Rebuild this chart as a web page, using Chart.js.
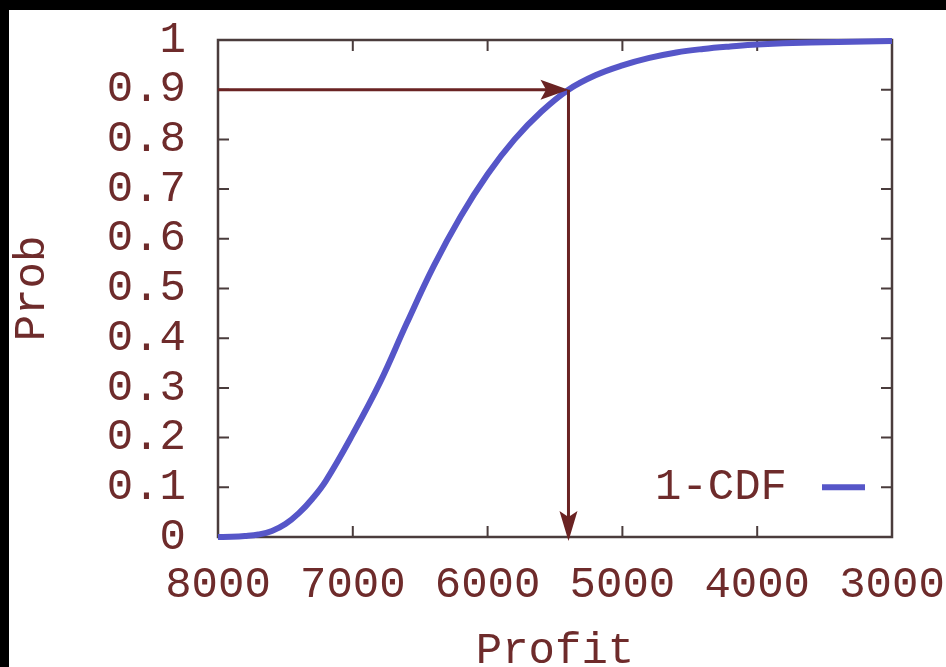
<!DOCTYPE html>
<html>
<head>
<meta charset="utf-8">
<script src="https://cdn.jsdelivr.net/npm/chart.js@4/dist/chart.umd.min.js"></script>
<style>
  html, body { margin: 0; padding: 0; background: #000; }
  #box { position: absolute; left: 9px; top: 10px; width: 937px; height: 657px; background: #fff; }
</style>
</head>
<body>
<div id="box"><canvas id="cdf_chart" width="937" height="657"></canvas></div>
<script>
// profit values (x) and 1-CDF probability
var profit = [8000, 7900, 7800, 7700, 7600, 7500, 7400, 7300, 7200, 7000, 6800, 6600, 6400, 6200, 6000, 5800, 5600, 5400, 5200, 5000, 4800, 4600, 4400, 4200, 4000, 3600, 3000]
var prob   = [0, 0.0005, 0.002, 0.005, 0.012, 0.026, 0.048, 0.077, 0.113, 0.207, 0.31, 0.43, 0.545, 0.645, 0.73, 0.8, 0.856, 0.9, 0.929, 0.949, 0.964, 0.975, 0.982, 0.987, 0.991, 0.995, 0.998]
var xTicks = [8000, 7000, 6000, 5000, 4000, 3000]
var yTicks = [0, 0.1, 0.2, 0.3, 0.4, 0.5, 0.6, 0.7, 0.8, 0.9, 1]
// the 0.9 marker arrows
var markProfit = 5400
var markProb = 0.9
var seriesName = '1-CDF'

var textColor = '#6e2b2b'
var axisColor = '#4a3c3c'
var arrowColor = '#6a2323'
var lineColor = '#5656c8'
var fam = '"Liberation Mono", "Courier New", monospace'
var font = { family: fam, size: 44, weight: 'normal' }

function head(ctx, x, y, dx, dy, len, half) {
  ctx.beginPath()
  ctx.moveTo(x, y)
  ctx.lineTo(x - dx * len - dy * half, y - dy * len + dx * half)
  ctx.lineTo(x - dx * len * 0.8, y - dy * len * 0.8)
  ctx.lineTo(x - dx * len + dy * half, y - dy * len - dx * half)
  ctx.closePath()
  ctx.fill()
}

function noPad(s) {
  s.paddingTop = 0; s.paddingBottom = 0; s.paddingLeft = 0; s.paddingRight = 0
}

var framePlugin = {
  id: 'frame',
  beforeDatasetsDraw: function (chart) {
    var a = chart.chartArea, ctx = chart.ctx
    var xs = chart.scales.x, ys = chart.scales.y
    ctx.save()
    ctx.strokeStyle = axisColor
    ctx.lineWidth = 2.5
    ctx.strokeRect(a.left, a.top, a.right - a.left, a.bottom - a.top)
    ctx.lineWidth = 2
    ctx.beginPath()
    xTicks.forEach(function (v) {
      var px = xs.getPixelForValue(v)
      ctx.moveTo(px, a.bottom); ctx.lineTo(px, a.bottom - 11)
      ctx.moveTo(px, a.top); ctx.lineTo(px, a.top + 11)
    })
    yTicks.forEach(function (v) {
      var py = ys.getPixelForValue(v)
      ctx.moveTo(a.left, py); ctx.lineTo(a.left + 11, py)
      ctx.moveTo(a.right, py); ctx.lineTo(a.right - 11, py)
    })
    ctx.stroke()
    ctx.restore()
  },
  afterDatasetsDraw: function (chart) {
    var a = chart.chartArea, ctx = chart.ctx
    var xs = chart.scales.x, ys = chart.scales.y
    var mx = xs.getPixelForValue(markProfit)
    var my = ys.getPixelForValue(markProb)
    var y0 = ys.getPixelForValue(0)
    ctx.save()
    ctx.strokeStyle = arrowColor
    ctx.fillStyle = arrowColor
    ctx.lineWidth = 3
    ctx.beginPath()
    ctx.moveTo(a.left, my); ctx.lineTo(mx - 20, my)
    ctx.moveTo(mx, my); ctx.lineTo(mx, y0 - 20)
    ctx.stroke()
    head(ctx, mx, my, 1, 0, 28, 10)
    head(ctx, mx, y0 + 4, 0, 1, 30, 9)
    // key
    var ky = ys.getPixelForValue(0.1)
    ctx.fillStyle = textColor
    ctx.font = font.size + 'px ' + fam
    ctx.textAlign = 'right'
    ctx.textBaseline = 'middle'
    ctx.fillText(seriesName, a.right - 105, ky)
    ctx.strokeStyle = lineColor
    ctx.lineWidth = 6
    ctx.beginPath()
    ctx.moveTo(a.right - 70, ky); ctx.lineTo(a.right - 27, ky)
    ctx.stroke()
    ctx.restore()
  }
}

document.addEventListener('DOMContentLoaded', function () {
  var ctx = document.getElementById('cdf_chart').getContext('2d')
  var pts = profit.map(function (p, i) { return { x: p, y: prob[i] } })
  new Chart(ctx, {
    type: 'line',
    data: {
      datasets: [{
        label: seriesName,
        data: pts,
        borderColor: lineColor,
        borderWidth: 6,
        pointRadius: 0,
        tension: 0.4,
        fill: false,
        clip: 4
      }]
    },
    options: {
      responsive: false,
      animation: false,
      devicePixelRatio: 1,
      layout: { padding: { left: 0, top: 30, right: 54, bottom: 0 } },
      plugins: { legend: { display: false }, tooltip: { enabled: false } },
      scales: {
        x: {
          type: 'linear',
          reverse: true,
          min: 3000,
          max: 8000,
          afterBuildTicks: function (s) { s.ticks = xTicks.map(function (v) { return { value: v } }) },
          afterFit: function (s) { s.height = 130; noPad(s) },
          grid: { display: false, drawTicks: false },
          border: { display: false },
          ticks: { color: textColor, font: font, padding: 22, maxRotation: 0, autoSkip: false,
            callback: function (v) { return String(v) } },
          title: { display: true, text: 'Profit', color: textColor, font: { family: fam, size: 44, weight: 'normal', lineHeight: 0.7 }, padding: 0 }
        },
        y: {
          type: 'linear',
          min: 0,
          max: 1,
          afterBuildTicks: function (s) { s.ticks = yTicks.map(function (v) { return { value: v } }) },
          afterFit: function (s) { s.width = 209; noPad(s) },
          grid: { display: false, drawTicks: false },
          border: { display: false },
          ticks: { color: textColor, font: font, padding: 32, autoSkip: false,
            callback: function (v) { return String(v) } },
          title: { display: true, text: 'Prob', color: textColor, font: { family: fam, size: 44, weight: 'normal', lineHeight: 1 }, padding: { top: 1, bottom: 0 } }
        }
      }
    },
    plugins: [framePlugin]
  })
})
</script>
</body>
</html>
